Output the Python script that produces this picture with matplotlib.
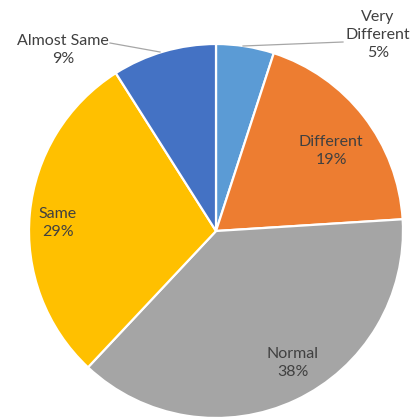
import matplotlib
matplotlib.use("Agg")
import matplotlib.pyplot as plt

# slices, clockwise from 12 o'clock
categories = ["Very\nDifferent", "Different", "Normal", "Same", "Almost Same"]
percent = [5, 19, 38, 29, 9]
colors = ["#5B9BD5", "#ED7D31", "#A5A5A5", "#FFC000", "#4472C4"]

# label centres in pixel coordinates (x, y from top)
label_pos = [(378, 35), (331, 151), (293, 363), (58, 223), (63, 50)]

plt.rcParams["font.family"] = ["Lato", "DejaVu Sans"]

W, H = 418, 419
fig = plt.figure(figsize=(W / 100, H / 100), dpi=100)
ax = fig.add_axes([0, 0, 1, 1])

cx, cy, r = 216, H - 231, 187
ax.pie(percent, colors=colors, startangle=90, counterclock=False,
       center=(cx, cy), radius=r, frame=True,
       wedgeprops=dict(edgecolor="white", linewidth=1.6))
ax.set_xlim(0, W)
ax.set_ylim(0, H)
ax.set_aspect("equal")
ax.axis("off")

for name, p, (x, y) in zip(categories, percent, label_pos):
    ax.text(x, H - y, f"{name}\n{p}%", ha="center", va="center",
            fontsize=11.5, color="#404040", linespacing=1.4)

# leader lines for the two small slices
ax.plot([243, 343], [H - 46, H - 42], color="#A6A6A6", lw=0.9)
ax.plot([110, 160], [H - 43, H - 52], color="#A6A6A6", lw=0.9)

fig.savefig("out.png", dpi=100, facecolor="white")
